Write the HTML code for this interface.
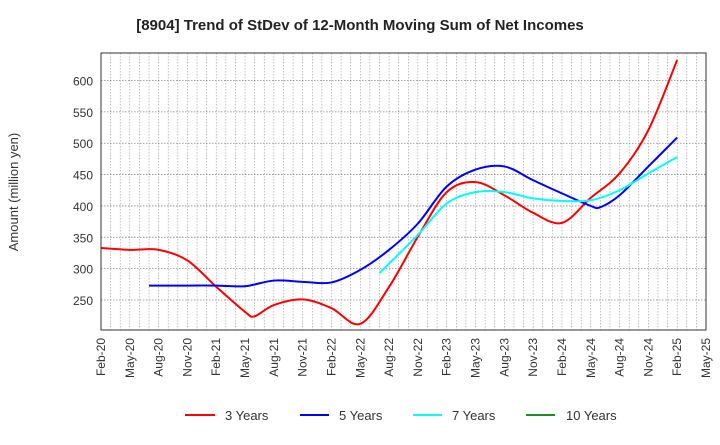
<!DOCTYPE html>
<html><head><meta charset="utf-8"><style>
body{margin:0;background:#fff;font-family:"Liberation Sans",sans-serif;}
</style></head><body>
<svg width="720" height="440" xmlns="http://www.w3.org/2000/svg" id="chart" font-family="Liberation Sans, sans-serif">
<rect width="720" height="440" fill="#fff"/>
<text x="360" y="30" text-anchor="middle" font-size="15" font-weight="bold" fill="#222">[8904]  Trend of StDev of 12-Month Moving Sum of Net Incomes</text>
<text x="18" y="192" text-anchor="middle" font-size="13" fill="#333" transform="rotate(-90 18 192)">Amount (million yen)</text>
<g id="grid"></g><g id="series"></g><g id="axes"></g>
<g font-size="13" fill="#333">
<g><line x1="185" y1="415" x2="215" y2="415" stroke="#f00" stroke-width="2"/><text x="225" y="420">3 Years</text></g>
<g><line x1="300" y1="415" x2="329" y2="415" stroke="#00f" stroke-width="2"/><text x="339" y="420">5 Years</text></g>
<g><line x1="413" y1="415" x2="442" y2="415" stroke="#0ff" stroke-width="2"/><text x="452" y="420">7 Years</text></g>
<g><line x1="526" y1="415" x2="555" y2="415" stroke="#228b22" stroke-width="2"/><text x="566" y="420">10 Years</text></g>
</g>
</svg>
<script>
const xTickLabels=["Feb-20","May-20","Aug-20","Nov-20","Feb-21","May-21","Aug-21","Nov-21","Feb-22","May-22","Aug-22","Nov-22","Feb-23","May-23","Aug-23","Nov-23","Feb-24","May-24","Aug-24","Nov-24","Feb-25","May-25"];
const yTicks=[250,300,350,400,450,500,550,600];
// month index from Feb-20
const months3=[0,3,6,9,12,15,16,18,21,24,27,30,33,36,39,42,45,48,51,54,57,60];
const vals3=[333,330,330,313,271,231,224,242,251,237,212,271,351,422,438,417,389,373,413,452,521,633];
const months5=[5,9,12,15,18,21,24,27,30,33,36,39,42,45,48,51,52,54,57,60];
const vals5=[273,273,273,272,281,279,278,298,330,372,431,458,463,441,420,400,398,417,463,509];
const months7=[29,33,36,39,42,45,48,51,54,57,60];
const vals7=[293,354,404,422,422,412,408,409,425,452,478];
const L=101,R=706,T=53,B=330,NM=63;
const yMin=250-(B-300)/0.6271*1, yMax=250+(B-T)/0.6271;
const xS=m=>L+(R-L)*m/NM;
const yS=v=>300-(v-250)*0.6271;
const NS="http://www.w3.org/2000/svg";
function mk(t,a,p){const e=document.createElementNS(NS,t);for(const k in a)e.setAttribute(k,a[k]);p.appendChild(e);return e;}
const grid=document.getElementById('grid'),axes=document.getElementById('axes'),ser=document.getElementById('series');
for(let m=1;m<NM;m++){const l=mk('line',{x1:xS(m),x2:xS(m),y1:T,y2:B,stroke:'#999','stroke-width':0.6,'stroke-dasharray':'1.5,1.5'},grid);

}
yTicks.forEach(v=>{const l=mk('line',{x1:L,x2:R,y1:yS(v),y2:yS(v),stroke:'#888','stroke-width':0.8,'stroke-dasharray':'1.5,1.5'},grid);


const t=mk('text',{x:L-8,y:yS(v)+5,'text-anchor':'end','font-size':12,fill:'#333'},axes);t.textContent=v;

});
xTickLabels.forEach((s,i)=>{const x=xS(i*3)+4,y=B+8;const t=mk('text',{x:x,y:y,'text-anchor':'end','font-size':12,fill:'#333',transform:`rotate(-90 ${x} ${y})`},axes);t.textContent=s;

});
const fr=mk('rect',{x:L,y:T,width:R-L,height:B-T,fill:'none',stroke:'#333','stroke-width':1},axes);


function path(ms,vs){const p=ms.map((m,i)=>[xS(m),yS(vs[i])]);let d=`M${p[0][0]},${p[0][1]}`;
for(let i=0;i<p.length-1;i++){const p0=p[i-1]||p[i],p1=p[i],p2=p[i+1],p3=p[i+2]||p2;
d+=` C${p1[0]+(p2[0]-p0[0])/6},${p1[1]+(p2[1]-p0[1])/6} ${p2[0]-(p3[0]-p1[0])/6},${p2[1]-(p3[1]-p1[1])/6} ${p2[0]},${p2[1]}`;}return d;}
[[months3,vals3,'#f00','series-3-years'],[months5,vals5,'#00f','series-5-years'],[months7,vals7,'#0ff','series-7-years']].forEach(s=>{
const e=mk('path',{d:path(s[0],s[1]),fill:'none',stroke:s[2],'stroke-width':2},ser);

});
</script>
</body></html>
